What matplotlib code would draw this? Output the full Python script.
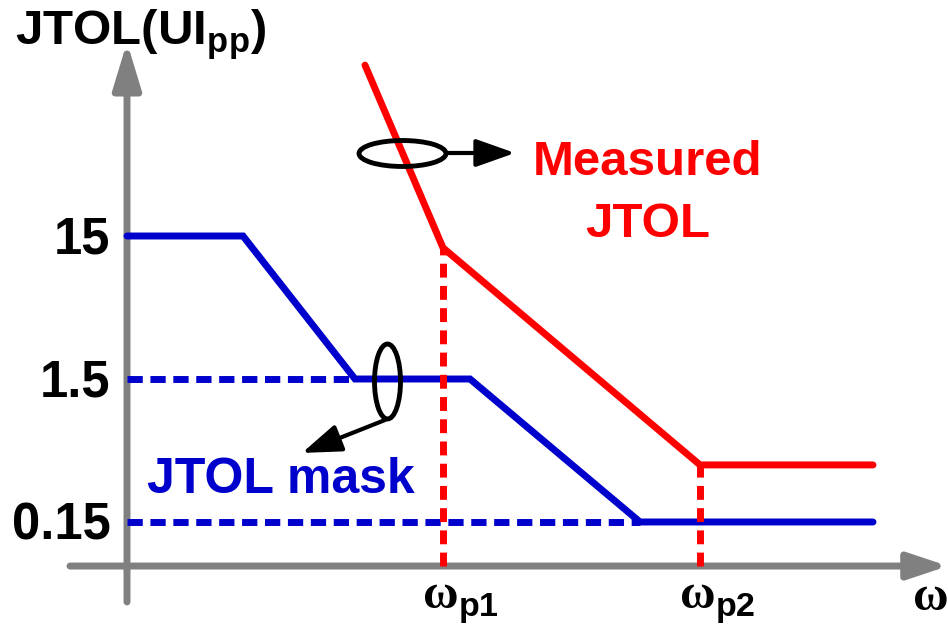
import matplotlib.pyplot as plt
from matplotlib.path import Path
from matplotlib.transforms import Affine2D

plt.rcParams['mathtext.fontset'] = 'custom'
plt.rcParams['mathtext.bf'] = 'Liberation Sans:bold'
plt.rcParams['mathtext.rm'] = 'Liberation Sans:bold'

# JTOL mask (blue) and measured JTOL (red), frequency in arbitrary log units
mask_w = [0, 1.16, 2.28, 3.43, 5.13, 7.46]
mask_jtol = [15, 15, 1.5, 1.5, 0.15, 0.15]
meas_w = [2.38, 3.16, 5.73, 7.46]
meas_jtol = [235, 12.4, 0.376, 0.376]
tick_vals = [15, 1.5, 0.15]
tick_labels = ['15', '1.5', '0.15']
corner_labels = ['p1', 'p2']

BLUE = '#0000CC'
RED = '#FF0000'
GREY = '#808080'
X0 = 0.0738   # where the frequency axis sits

fig = plt.figure(figsize=(9.48, 6.28), dpi=100)
ax = fig.add_axes([0, 0, 1, 1])
ax.set_yscale('log')
ax.set_xlim(-1.27, 8.21)
ax.set_ylim(0.02721, 670.7)
ax.axis('off')

# axes with arrow heads
ax.annotate('', xy=(8.21, X0), xytext=(-0.57, X0),
            arrowprops=dict(arrowstyle='-|>,head_length=24,head_width=8', mutation_scale=1,
                            lw=5, color=GREY, capstyle='round', shrinkA=0, shrinkB=0), zorder=1)
ax.annotate('', xy=(0, 340), xytext=(0, 0.0414),
            arrowprops=dict(arrowstyle='-|>,head_length=28,head_width=8.5', mutation_scale=1,
                            lw=5, color=GREY, capstyle='round', shrinkA=0, shrinkB=0), zorder=1)

# dashed guides
ax.plot([0, mask_w[2]], [mask_jtol[2]] * 2, color=BLUE, lw=5, dashes=(2.2, 1.1), zorder=2)
ax.plot([0, mask_w[4]], [mask_jtol[4]] * 2, color=BLUE, lw=5, dashes=(2.2, 1.1), zorder=2)

# curves
ax.plot(mask_w, mask_jtol, color=BLUE, lw=5, solid_capstyle='round', solid_joinstyle='miter', zorder=3)
ax.plot(meas_w, meas_jtol, color=RED, lw=5, solid_capstyle='round', solid_joinstyle='miter', zorder=3)
for w, j in zip(meas_w[1:3], meas_jtol[1:3]):
    ax.plot([w, w], [X0, j], color=RED, lw=5, dashes=(2.0, 1.2), zorder=4)

# tick labels
for v, lbl in zip(tick_vals, tick_labels):
    ax.annotate(lbl, xy=(0, v), xytext=(-12, -12.5), textcoords='offset points',
                ha='right', va='baseline', fontsize=36.5, fontweight='bold',
                family='Liberation Sans')

# axis titles
ax.text(-1.12, 325, r'JTOL(UI$_{\mathbf{pp}}$)', fontsize=35.5, fontweight='bold',
        family='Liberation Sans', ha='left', va='baseline')
for w, lbl in zip(meas_w[1:3], corner_labels):
    ax.annotate('ω$_{\\mathbf{' + lbl + '}}$', xy=(w, X0), xytext=(-15, -31),
                textcoords='offset points', ha='left', va='baseline', fontsize=35,
                fontweight='bold', family='Liberation Serif')
ax.text(7.86, 0.0364, 'ω', fontsize=35, fontweight='bold', family='Liberation Serif',
        ha='left', va='baseline')

# legends with ellipses and arrows
def ellipse_marker(aspect_x, aspect_y):
    return Path.unit_circle().transformed(Affine2D().scale(aspect_x, aspect_y))

ax.plot([2.75], [57.1], marker=ellipse_marker(87, 26), ms=62.6, mfc='none',
        mec='black', mew=3.5, zorder=5)
ax.annotate('', xy=(3.88, 57.1), xytext=(3.21, 57.1),
            arrowprops=dict(arrowstyle='-|>,head_length=24,head_width=8.5', mutation_scale=1,
                            lw=3, color='black', shrinkA=0, shrinkB=0), zorder=5)
ax.plot([2.60], [1.45], marker=ellipse_marker(26, 75), ms=54, mfc='none',
        mec='black', mew=3.5, zorder=5)
ax.annotate('', xy=(1.75, 0.456), xytext=(2.58, 0.775),
            arrowprops=dict(arrowstyle='-|>,head_length=24,head_width=8.5', mutation_scale=1,
                            lw=3, color='black', shrinkA=0, shrinkB=0), zorder=5)

ax.text(5.21, 40.1, 'Measured', color=RED, fontsize=35.5, fontweight='bold',
        family='Liberation Sans', ha='center', va='baseline')
ax.text(5.21, 14.76, 'JTOL', color=RED, fontsize=35.5, fontweight='bold',
        family='Liberation Sans', ha='center', va='baseline')
ax.text(0.20, 0.239, 'JTOL mask', color=BLUE, fontsize=36, fontweight='bold',
        family='Liberation Sans', ha='left', va='baseline')

plt.savefig('out.png', dpi=100)
